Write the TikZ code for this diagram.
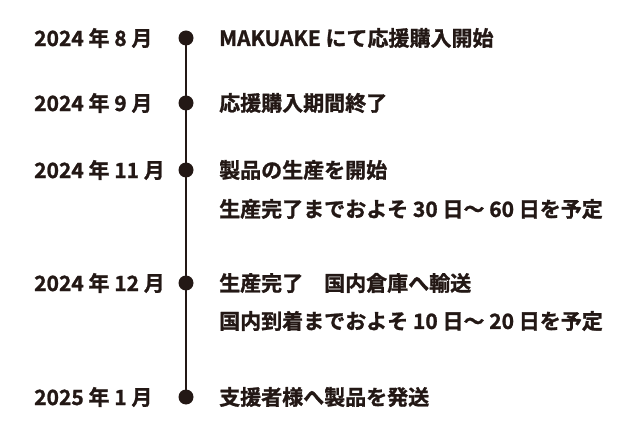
\documentclass[tikz,border=0pt]{standalone}
\usepackage{fontspec}
\setmainfont{Noto Sans CJK JP}[BoldFont={* Bold},BoldFeatures={FakeBold=1.2}]
\usetikzlibrary{positioning}
\definecolor{ink}{HTML}{231815}
\tikzset{
  datelabel/.style={anchor=west,inner sep=0pt,font=\fontsize{21}{24}\selectfont\bfseries,text=ink},
  eventtext/.style={anchor=west,inner sep=0pt,font=\fontsize{21}{24}\selectfont\bfseries,text=ink},
  dot/.style={circle,fill=ink,inner sep=0pt,minimum size=15pt}
}
\begin{document}
\begin{tikzpicture}[x=1pt,y=-1pt]
\useasboundingbox (0,0) rectangle (640,438);
% dates
\node[datelabel] (d1) at (34,38) {2024 年 8 月};
\node[datelabel] (d2) at (34,103) {2024 年 9 月};
\node[datelabel] (d3) at (34,170) {2024 年 11 月};
\node[datelabel] (d4) at (34,283) {2024 年 12 月};
\node[datelabel] (d5) at (34,397) {2025 年 1 月};
% dots
\node[dot] (p1) at (186,38) {};
\node[dot] (p2) at (186,103) {};
\node[dot] (p3) at (186,170) {};
\node[dot] (p4) at (186,283) {};
\node[dot] (p5) at (186,397) {};
\draw[ink,line width=1.4pt] (p1.center)--(p5.center);
% events
\node[eventtext] (e1) at (219,38) {MAKUAKE にて応援購入開始};
\node[eventtext] (e2) at (219,103) {応援購入期間終了};
\node[eventtext] (e3) at (219,170) {製品の生産を開始};
\node[eventtext] (e3b) at (219,209) {生産完了までおよそ 30 日～ 60 日を予定};
\node[eventtext] (e4) at (219,283) {生産完了\quad 国内倉庫へ輸送};
\node[eventtext] (e4b) at (219,321) {国内到着までおよそ 10 日～ 20 日を予定};
\node[eventtext] (e5) at (219,397) {支援者様へ製品を発送};
\end{tikzpicture}
\end{document}
